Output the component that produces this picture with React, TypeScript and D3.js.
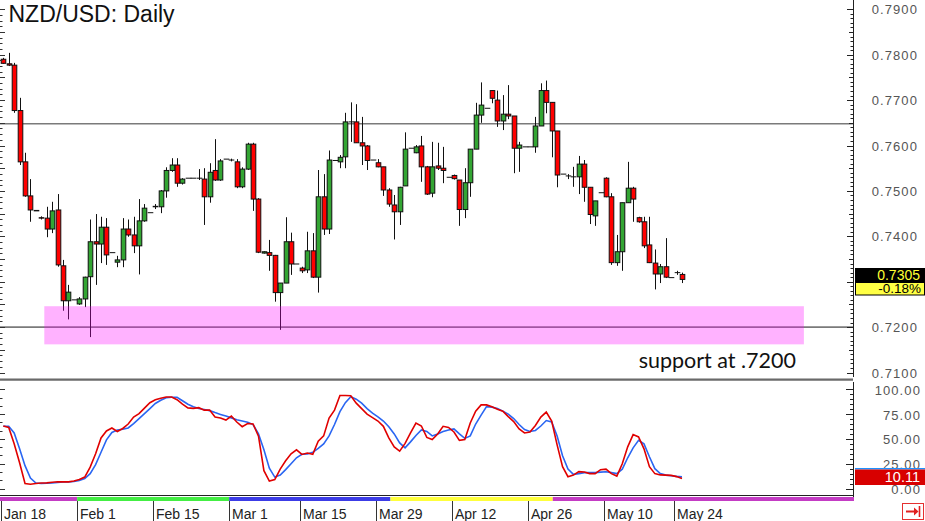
import { useEffect, useRef } from 'react';
import * as d3 from 'd3';

const W = 925;
const H = 521;

// one row per slot: [open, high, low, close]
const ohlc: [number, number, number, number][] = [
  [0.7790, 0.7793, 0.7780, 0.7781], [0.7780, 0.7804, 0.7775, 0.7777], [0.7777, 0.7782, 0.7672, 0.7677],
  [0.7677, 0.7705, 0.7557, 0.7564], [0.7564, 0.7584, 0.7487, 0.7489], [0.7489, 0.7526, 0.7432, 0.7458],
  [0.7457, 0.7457, 0.7456, 0.7456], [0.7441, 0.7444, 0.7437, 0.7440], [0.7440, 0.7465, 0.7398, 0.7416],
  [0.7416, 0.7476, 0.7407, 0.7456], [0.7458, 0.7493, 0.7333, 0.7337], [0.7335, 0.7348, 0.7236, 0.7258],
  [0.7258, 0.7293, 0.7217, 0.7277], [0.7260, 0.7260, 0.7260, 0.7260], [0.7251, 0.7266, 0.7249, 0.7262],
  [0.7262, 0.7311, 0.7244, 0.7310], [0.7311, 0.7437, 0.7178, 0.7388], [0.7388, 0.7449, 0.7293, 0.7383],
  [0.7383, 0.7443, 0.7341, 0.7420], [0.7420, 0.7440, 0.7337, 0.7359], [0.7364, 0.7364, 0.7364, 0.7364],
  [0.7343, 0.7357, 0.7332, 0.7348], [0.7348, 0.7440, 0.7332, 0.7416], [0.7416, 0.7437, 0.7399, 0.7403],
  [0.7403, 0.7443, 0.7363, 0.7379], [0.7379, 0.7482, 0.7316, 0.7434], [0.7434, 0.7471, 0.7432, 0.7462],
  [0.7452, 0.7452, 0.7452, 0.7452], [0.7465, 0.7471, 0.7460, 0.7466], [0.7465, 0.7502, 0.7451, 0.7500],
  [0.7500, 0.7552, 0.7485, 0.7545], [0.7545, 0.7572, 0.7542, 0.7557], [0.7557, 0.7572, 0.7509, 0.7517],
  [0.7517, 0.7528, 0.7514, 0.7526], [0.7528, 0.7528, 0.7528, 0.7528], [0.7528, 0.7528, 0.7528, 0.7528],
  [0.7528, 0.7548, 0.7524, 0.7528], [0.7526, 0.7550, 0.7425, 0.7487], [0.7487, 0.7561, 0.7474, 0.7541],
  [0.7545, 0.7614, 0.7522, 0.7524], [0.7524, 0.7570, 0.7522, 0.7566], [0.7570, 0.7570, 0.7570, 0.7570],
  [0.7568, 0.7571, 0.7565, 0.7568], [0.7564, 0.7570, 0.7506, 0.7509], [0.7509, 0.7552, 0.7506, 0.7548],
  [0.7548, 0.7606, 0.7546, 0.7603], [0.7603, 0.7606, 0.7456, 0.7482], [0.7482, 0.7484, 0.7363, 0.7365],
  [0.7363, 0.7367, 0.7362, 0.7366], [0.7364, 0.7392, 0.7324, 0.7358], [0.7358, 0.7359, 0.7256, 0.7276],
  [0.7276, 0.7297, 0.7194, 0.7297], [0.7297, 0.7442, 0.7297, 0.7388], [0.7388, 0.7408, 0.7315, 0.7339],
  [0.7339, 0.7339, 0.7339, 0.7339], [0.7330, 0.7333, 0.7319, 0.7324], [0.7326, 0.7410, 0.7319, 0.7368],
  [0.7368, 0.7407, 0.7308, 0.7310], [0.7310, 0.7546, 0.7276, 0.7487], [0.7487, 0.7537, 0.7403, 0.7416],
  [0.7416, 0.7589, 0.7405, 0.7568], [0.7567, 0.7567, 0.7567, 0.7567], [0.7564, 0.7579, 0.7550, 0.7574],
  [0.7575, 0.7672, 0.7550, 0.7652], [0.7652, 0.7695, 0.7608, 0.7652], [0.7652, 0.7691, 0.7606, 0.7606],
  [0.7606, 0.7663, 0.7557, 0.7599], [0.7599, 0.7601, 0.7546, 0.7567], [0.7568, 0.7568, 0.7568, 0.7568],
  [0.7562, 0.7570, 0.7552, 0.7553], [0.7553, 0.7553, 0.7489, 0.7502], [0.7502, 0.7506, 0.7465, 0.7471],
  [0.7469, 0.7491, 0.7393, 0.7454], [0.7454, 0.7509, 0.7425, 0.7508], [0.7511, 0.7629, 0.7511, 0.7592],
  [0.7594, 0.7594, 0.7594, 0.7594], [0.7584, 0.7601, 0.7583, 0.7597], [0.7599, 0.7621, 0.7520, 0.7553],
  [0.7553, 0.7555, 0.7491, 0.7493], [0.7495, 0.7608, 0.7486, 0.7553], [0.7555, 0.7606, 0.7546, 0.7550],
  [0.7550, 0.7597, 0.7517, 0.7545], [0.7530, 0.7530, 0.7530, 0.7530], [0.7534, 0.7536, 0.7525, 0.7527],
  [0.7524, 0.7524, 0.7423, 0.7459], [0.7459, 0.7550, 0.7440, 0.7518], [0.7518, 0.7592, 0.7487, 0.7592],
  [0.7592, 0.7694, 0.7592, 0.7667], [0.7667, 0.7739, 0.7650, 0.7689], [0.7682, 0.7682, 0.7682, 0.7682],
  [0.7721, 0.7721, 0.7693, 0.7704], [0.7700, 0.7721, 0.7641, 0.7654], [0.7654, 0.7711, 0.7634, 0.7669],
  [0.7669, 0.7733, 0.7658, 0.7665], [0.7665, 0.7665, 0.7539, 0.7594], [0.7594, 0.7608, 0.7542, 0.7601],
  [0.7597, 0.7597, 0.7597, 0.7597], [0.7597, 0.7597, 0.7597, 0.7597], [0.7597, 0.7663, 0.7584, 0.7643],
  [0.7643, 0.7737, 0.7643, 0.7721], [0.7721, 0.7743, 0.7671, 0.7695], [0.7695, 0.7695, 0.7574, 0.7632],
  [0.7632, 0.7632, 0.7508, 0.7535], [0.7537, 0.7537, 0.7537, 0.7537], [0.7533, 0.7537, 0.7526, 0.7533],
  [0.7531, 0.7553, 0.7509, 0.7531], [0.7531, 0.7577, 0.7493, 0.7559], [0.7559, 0.7568, 0.7476, 0.7508],
  [0.7508, 0.7508, 0.7427, 0.7448], [0.7445, 0.7478, 0.7423, 0.7478], [0.7496, 0.7496, 0.7496, 0.7496],
  [0.7528, 0.7530, 0.7486, 0.7487], [0.7487, 0.7495, 0.7337, 0.7342], [0.7342, 0.7403, 0.7335, 0.7366],
  [0.7366, 0.7474, 0.7324, 0.7474], [0.7474, 0.7564, 0.7474, 0.7506], [0.7506, 0.7509, 0.7432, 0.7482],
  [0.7441, 0.7443, 0.7430, 0.7432], [0.7432, 0.7443, 0.7374, 0.7379], [0.7381, 0.7443, 0.7341, 0.7342],
  [0.7341, 0.7371, 0.7283, 0.7317], [0.7317, 0.7339, 0.7297, 0.7333], [0.7333, 0.7396, 0.7308, 0.7310],
  [0.7309, 0.7309, 0.7309, 0.7309], [0.7320, 0.7324, 0.7315, 0.7320], [0.7316, 0.7320, 0.7297, 0.7305],
];

// stochastic %K (red) and %D (blue), one value per slot
const stochK = [
  63, 61.5, 45, 26, 5, 4.3, 5, 5.5, 5.7, 6.3, 6.8, 6.7, 6.7, 7.5, 9, 11.5, 21.5, 35, 51, 58,
  61, 57.5, 60.5, 65, 72, 75.5, 81, 86.5, 89.5, 91, 92.3, 92.3, 89.5, 85, 81.3, 80.8, 81.5, 79, 79, 72,
  71, 69, 73, 67, 62.3, 65.5, 65, 52.7, 18, 7.5, 9, 19.5, 28, 35, 39, 34.3, 35.8, 34.5, 47.7, 53,
  71, 79, 93.7, 93.7, 93.5, 86, 80.5, 75, 71.5, 68, 62.7, 51, 42, 37.7, 45.5, 56, 66, 63, 51.5, 49.3,
  55, 62.7, 61.5, 57, 48.5, 49.3, 66, 78, 84.3, 84.3, 82.3, 80, 78, 72.5, 67.5, 60, 56, 57, 63.5, 72,
  77, 68, 44, 22, 11.9, 13.5, 17, 16.7, 15, 15, 19, 19.5, 15, 12.5, 25, 42, 54.3, 52, 40, 22,
  15, 13.7, 13.5, 13.2, 12, 10.1,
];
const stochD = [
  62.7, 62.7, 56, 40, 23, 10.5, 5.5, 5, 5.3, 5.6, 6, 6.5, 6.7, 7, 8, 10, 15, 24, 36.5, 49,
  56.5, 59, 59.8, 61, 65.5, 70.5, 75.5, 80.5, 85.7, 89, 91.5, 92, 92, 88.5, 85, 82.5, 80.7, 79.7, 78.5, 76.5,
  74.7, 73, 71.2, 69.3, 68, 66.7, 64.5, 55, 39, 20.5, 11.5, 13.5, 19, 25, 31, 34.5, 34.8, 36.5, 40.5, 45,
  53, 64.5, 77.5, 86.5, 92.5, 90, 86, 80.5, 76, 72.3, 68, 62.3, 55, 46, 41, 47, 53.5, 59, 57.5, 53,
  55, 57.5, 59, 60, 55, 50.5, 53, 65, 74, 82.5, 82, 80.7, 78, 75, 70.5, 64.5, 59.5, 57.5, 58.5, 63,
  68.5, 67, 53, 33, 19.5, 14.3, 15, 16, 16, 16, 16.5, 16.9, 16, 15, 19.5, 31, 41, 48.5, 45, 32,
  20, 15, 13.5, 12.9, 12.2, 11.7,
];

const priceLabels = [0.79, 0.78, 0.77, 0.76, 0.75, 0.74, 0.72, 0.71];
const stochLabels = [100, 75, 50, 25, 0];

const dateTicks = [
  { slot: 0, label: 'Jan 18' },
  { slot: 14, label: 'Feb 1' },
  { slot: 28, label: 'Feb 15' },
  { slot: 42, label: 'Mar 1' },
  { slot: 55, label: 'Mar 15' },
  { slot: 69, label: 'Mar 29' },
  { slot: 83, label: 'Apr 12' },
  { slot: 97, label: 'Apr 26' },
  { slot: 111, label: 'May 10' },
  { slot: 124, label: 'May 24' },
];

// month colour strip under the indicator
const monthBands = [
  { from: -1, to: 13.6, color: '#c43cc4' },
  { from: 13.6, to: 41.6, color: '#44ee44' },
  { from: 41.6, to: 71.3, color: '#3c3ce6' },
  { from: 71.3, to: 101.2, color: '#ffff3c' },
  { from: 101.2, to: 157, color: '#c43cc4' },
];

const levelLines = [0.7648, 0.72];
const supportZone = { from: 7.55, to: 147.45, low: 0.7162, high: 0.7246 };
const lastPrice = '0.7305';
const lastChange = '-0.18%';
const lastStoch = '10.11';

export default function App() {
  const svgRef = useRef<SVGSVGElement>(null);

  useEffect(() => {
    if (!svgRef.current) return;
    const svg = d3.select(svgRef.current);
    svg.selectAll('*').remove();

    const axisX = 853;
    const mainBottom = 379;
    const stochTop = 380;
    const stochBottom = 495.5;
    const font = '"Liberation Sans", Arial, sans-serif';

    const x = d3.scaleLinear().domain([0, 125]).range([3.3, 682]);
    const y = d3.scaleLinear().domain([0.71, 0.79]).range([372.5, 9.3]);
    const ys = d3.scaleLinear().domain([0, 100]).range([488.5, 389.3]);

    svg.append('rect').attr('width', W).attr('height', H).attr('fill', '#fff');

    // level lines
    levelLines.forEach((v) => {
      svg
        .append('line')
        .attr('x1', 0)
        .attr('x2', axisX)
        .attr('y1', y(v))
        .attr('y2', y(v))
        .attr('stroke', '#7a7a7a')
        .attr('stroke-width', 1.6);
    });

    // candles
    const bw = 4.6;
    const g = svg.append('g');
    ohlc.forEach(([o, h, l, c], i) => {
      const cx = Math.round(x(i)) + 0.5;
      g.append('line')
        .attr('x1', cx)
        .attr('x2', cx)
        .attr('y1', y(h))
        .attr('y2', y(l))
        .attr('stroke', '#111')
        .attr('stroke-width', 1);
      const top = y(Math.max(o, c));
      const hgt = Math.max(0.01, y(Math.min(o, c)) - top);
      g.append('rect')
        .attr('x', cx - bw / 2)
        .attr('y', top)
        .attr('width', bw)
        .attr('height', hgt)
        .attr('fill', c >= o ? '#33a533' : '#ff0000')
        .attr('stroke', '#111')
        .attr('stroke-width', 1);
    });

    // support zone
    svg
      .append('rect')
      .attr('x', x(supportZone.from))
      .attr('width', x(supportZone.to) - x(supportZone.from))
      .attr('y', y(supportZone.high))
      .attr('height', y(supportZone.low) - y(supportZone.high))
      .attr('fill', 'rgba(255,0,255,0.3)');

    svg
      .append('text')
      .attr('x', 796)
      .attr('y', 367.5)
      .attr('text-anchor', 'end')
      .attr('font-family', 'Lato, "Open Sans", sans-serif')
      .attr('font-size', 21.5)
      .attr('fill', '#111')
      .text('support at .7200');

    // frames
    svg.append('line').attr('x1', 0).attr('x2', axisX).attr('y1', mainBottom).attr('y2', mainBottom).attr('stroke', '#666').attr('stroke-width', 1.2);
    svg.append('line').attr('x1', 0).attr('x2', axisX).attr('y1', stochTop).attr('y2', stochTop).attr('stroke', '#222').attr('stroke-width', 1);
    svg.append('line').attr('x1', 0).attr('x2', axisX).attr('y1', stochBottom).attr('y2', stochBottom).attr('stroke', '#222').attr('stroke-width', 1.2);
    svg.append('line').attr('x1', axisX + 0.5).attr('x2', axisX + 0.5).attr('y1', 0).attr('y2', 377).attr('stroke', '#222');
    svg.append('line').attr('x1', axisX + 0.5).attr('x2', axisX + 0.5).attr('y1', 382).attr('y2', 497).attr('stroke', '#222');

    // price axis ticks (right and left)
    d3.range(710, 791).forEach((k) => {
      const len = k % 10 === 0 ? 6 : k % 5 === 0 ? 4 : 2.5;
      const yy = Math.round(y(k / 1000)) + 0.5;
      svg.append('line').attr('x1', axisX - len).attr('x2', axisX).attr('y1', yy).attr('y2', yy).attr('stroke', '#222');
    });
    d3.range(0, 65).forEach((k) => {
      const len = k % 4 === 0 ? 5 : 2.5;
      const yy = Math.round(y(0.71 + k * 0.00125)) + 0.5;
      svg.append('line').attr('x1', 0).attr('x2', len).attr('y1', yy).attr('y2', yy).attr('stroke', '#333');
    });
    // stochastic ticks
    d3.range(0, 101, 5).forEach((v) => {
      const len = v % 25 === 0 ? 7 : 3;
      const yy = Math.round(ys(v)) + 0.5;
      svg.append('line').attr('x1', axisX - len).attr('x2', axisX).attr('y1', yy).attr('y2', yy).attr('stroke', '#222');
    });
    d3.range(0, 13).forEach((k) => {
      const len = k % 3 === 0 ? 5 : 2.5;
      const yy = Math.round(ys((k * 100) / 12)) + 0.5;
      svg.append('line').attr('x1', 0).attr('x2', len).attr('y1', yy).attr('y2', yy).attr('stroke', '#333');
    });

    // axis labels
    svg
      .append('g')
      .selectAll('text')
      .data(priceLabels)
      .join('text')
      .attr('x', 918)
      .attr('y', (d) => y(d) + 5)
      .attr('text-anchor', 'end')
      .attr('font-family', font)
      .attr('font-size', 13)
      .attr('letter-spacing', 1.1)
      .attr('fill', '#555')
      .text((d) => d.toFixed(4));

    svg
      .append('g')
      .selectAll('text')
      .data(stochLabels)
      .join('text')
      .attr('x', 921)
      .attr('y', (d) => ys(d) + 5.5)
      .attr('text-anchor', 'end')
      .attr('font-family', font)
      .attr('font-size', 13)
      .attr('letter-spacing', 1.1)
      .attr('fill', '#555')
      .text((d) => d.toFixed(2));

    // stochastic lines
    const clipId = 'stoch-clip';
    svg
      .append('clipPath')
      .attr('id', clipId)
      .append('rect')
      .attr('x', 0)
      .attr('y', stochTop)
      .attr('width', axisX)
      .attr('height', stochBottom - stochTop);
    const line = d3
      .line<number>()
      .x((_, i) => x(i))
      .y((d) => ys(d));
    svg
      .append('path')
      .attr('d', line(stochD))
      .attr('clip-path', `url(#${clipId})`)
      .attr('fill', 'none')
      .attr('stroke', '#2a66f2')
      .attr('stroke-width', 1.6);
    svg
      .append('path')
      .attr('d', line(stochK))
      .attr('clip-path', `url(#${clipId})`)
      .attr('fill', 'none')
      .attr('stroke', '#e00000')
      .attr('stroke-width', 1.6);

    // last value boxes
    svg.append('rect').attr('x', 855).attr('y', 268).attr('width', 70).attr('height', 14.5).attr('fill', '#000');
    svg
      .append('text')
      .attr('x', 920)
      .attr('y', 279.5)
      .attr('text-anchor', 'end')
      .attr('font-family', font)
      .attr('font-size', 14)
      .attr('fill', '#ffff33')
      .text(lastPrice);
    svg
      .append('rect')
      .attr('x', 855.5)
      .attr('y', 282.5)
      .attr('width', 69)
      .attr('height', 12.5)
      .attr('fill', '#ffff44')
      .attr('stroke', '#000');
    svg
      .append('text')
      .attr('x', 921)
      .attr('y', 293)
      .attr('text-anchor', 'end')
      .attr('font-family', font)
      .attr('font-size', 13.5)
      .attr('fill', '#000')
      .text(lastChange);

    svg
      .append('line')
      .attr('x1', 855)
      .attr('x2', W)
      .attr('y1', ys(20))
      .attr('y2', ys(20))
      .attr('stroke', '#1e90ff')
      .attr('stroke-width', 1.5);
    svg.append('rect').attr('x', 855).attr('y', 469.5).attr('width', 70).attr('height', 15.5).attr('fill', '#d80000');
    svg
      .append('text')
      .attr('x', 920)
      .attr('y', 482)
      .attr('text-anchor', 'end')
      .attr('font-family', font)
      .attr('font-size', 14.5)
      .attr('fill', '#fff')
      .text(lastStoch);

    // month strip and dates
    monthBands.forEach((b) => {
      const x0 = Math.max(0, x(b.from));
      const x1 = Math.min(axisX + 1, x(b.to));
      svg.append('rect').attr('x', x0).attr('y', 497).attr('width', x1 - x0).attr('height', 4).attr('fill', b.color);
    });
    dateTicks.forEach((t) => {
      const tx = Math.round(x(t.slot - 0.4)) + 0.5;
      svg.append('line').attr('x1', tx).attr('x2', tx).attr('y1', 501).attr('y2', H).attr('stroke', '#333');
      svg
        .append('text')
        .attr('x', tx + 2.5)
        .attr('y', 518.5)
        .attr('font-family', font)
        .attr('font-size', 14)
        .attr('fill', '#222')
        .text(t.label);
    });

    // scroll-to-end button
    const btn = svg.append('g');
    btn.append('rect').attr('x', 902.5).attr('y', 503.5).attr('width', 21).attr('height', 16).attr('fill', '#fff').attr('stroke', '#e53030');
    btn.append('line').attr('x1', 906).attr('x2', 915).attr('y1', 511.5).attr('y2', 511.5).attr('stroke', '#e02020').attr('stroke-width', 2);
    btn.append('path').attr('d', 'M914,507.5 L918.5,511.5 L914,515.5 Z').attr('fill', '#e02020');
    btn.append('line').attr('x1', 919.5).attr('x2', 919.5).attr('y1', 506).attr('y2', 517).attr('stroke', '#e02020').attr('stroke-width', 1.6);

    // title
    svg
      .append('text')
      .attr('x', 8.5)
      .attr('y', 21.5)
      .attr('font-family', font)
      .attr('font-size', 23)
      .attr('fill', '#111')
      .text('NZD/USD: Daily');
  }, []);

  return (
    <svg
      ref={svgRef}
      width={W}
      height={H}
      style={{ position: 'absolute', left: 0, top: 0, display: 'block' }}
    />
  );
}
